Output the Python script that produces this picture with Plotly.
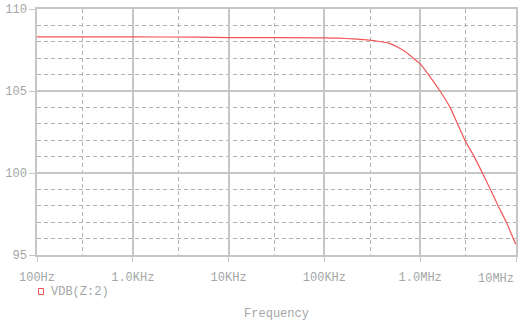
import plotly.graph_objects as go

# Frequency response of node Z:2, in dB
freq_hz = [100, 1e3, 4.7e3, 1e4, 1e5, 1.41e5, 2e5, 2.76e5, 3.5e5, 4.67e5,
           5.7e5, 6.96e5, 8.49e5, 1e6, 1.22e6, 1.61e6, 2.05e6, 2.45e6,
           2.93e6, 3.66e6, 4.46e6, 5.41e6, 6.5e6, 7.93e6, 9.7e6, 1e7]
vdb = [108.30, 108.30, 108.28, 108.26, 108.24, 108.22, 108.18, 108.12,
       108.05, 107.92, 107.70, 107.41, 107.00, 106.65, 106.00, 105.00,
       104.00, 103.00, 102.00, 101.00, 100.00, 99.00, 98.00, 97.00,
       95.80, 95.65]

x_major = [100, 1e3, 1e4, 1e5, 1e6, 1e7]
x_labels = ["100Hz", "1.0KHz", "10KHz", "100KHz", "1.0MHz", ""]
x_minor = [300, 3e3, 3e4, 3e5, 3e6]
last_label = "10MHz"
y_major = [95, 100, 105, 110]
series_name = "VDB(Z:2)"

FONT = "Liberation Mono, Courier New, monospace"
TXT = "#a3a7a7"
GRID = "#c6c6c6"
DASH = "#b2b2b2"
RED = "#f25555"

fig = go.Figure()
fig.add_trace(go.Scatter(
    x=freq_hz, y=vdb, mode="lines", name=series_name,
    line=dict(color=RED, width=1.2, shape="spline", smoothing=0.6),
    showlegend=False,
))

fig.update_xaxes(
    type="log", range=[2, 7],
    tickmode="array", tickvals=x_major, ticktext=x_labels,
    ticks="outside", ticklen=5, tickcolor=GRID, ticklabelstandoff=5,
    showgrid=True, gridcolor=GRID, gridwidth=1.5,
    showline=True, linecolor=GRID, linewidth=1.5, mirror=True,
    minor=dict(tickmode="array", tickvals=x_minor, showgrid=True,
               gridcolor=DASH, griddash="4px,3px", gridwidth=1, ticks=""),
    tickfont=dict(family=FONT, size=12, color=TXT),
    title=dict(text="Frequency", font=dict(family=FONT, size=12, color=TXT),
               standoff=26),
    zeroline=False,
)
fig.update_yaxes(
    range=[95, 110],
    tickmode="array", tickvals=y_major,
    ticks="outside", ticklen=6, tickcolor=GRID,
    showgrid=True, gridcolor=GRID, gridwidth=1.5,
    showline=True, linecolor=GRID, linewidth=1.5, mirror=True,
    minor=dict(dtick=1, showgrid=True, gridcolor=DASH,
               griddash="4px,3px", gridwidth=1, ticks=""),
    tickfont=dict(family=FONT, size=12, color=TXT),
    zeroline=False,
)

# last tick label kept inside the page edge
fig.add_annotation(x=7, xref="x", y=0, yref="paper", yshift=-24,
                   text=last_label, showarrow=False, xanchor="right",
                   yanchor="middle",
                   font=dict(family=FONT, size=12, color=TXT))

# legend entry: open red square + trace name
fig.add_shape(type="rect", xref="paper", yref="paper",
              xsizemode="pixel", ysizemode="pixel", xanchor=0, yanchor=0,
              x0=1.5, x1=6.5, y0=-39.5, y1=-33.5,
              line=dict(color=RED, width=1))
fig.add_annotation(xref="paper", yref="paper", x=0.025, y=0, yshift=-37,
                   text=series_name, showarrow=False, xanchor="left",
                   yanchor="middle",
                   font=dict(family=FONT, size=12, color=TXT))

fig.update_layout(
    width=519, height=321,
    margin=dict(l=37, r=1, t=9, b=64),
    paper_bgcolor="white", plot_bgcolor="white",
)

fig.write_html("out.html")
